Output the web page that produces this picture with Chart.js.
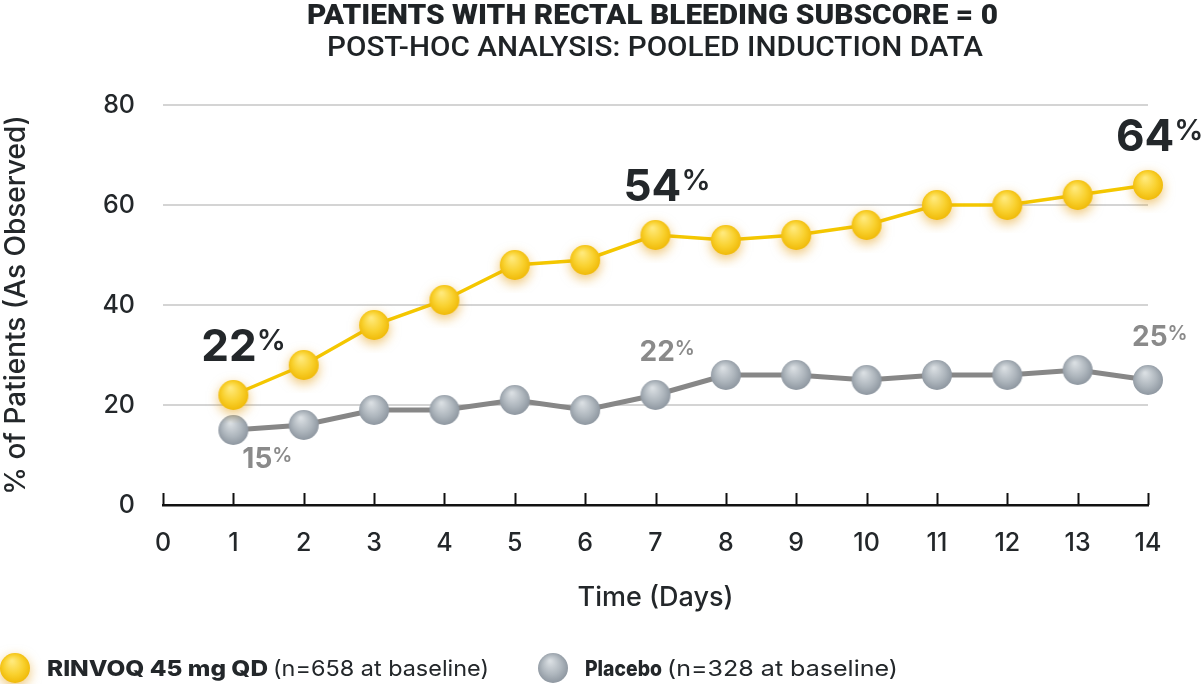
<!DOCTYPE html>
<html>
<head>
<meta charset="utf-8">
<script src="https://cdn.jsdelivr.net/npm/chart.js@4"></script>
<style>
  html, body { margin: 0; padding: 0; background: #fff; }
  #wrap { width: 1204px; height: 684px; }
</style>
</head>
<body>
<div id="wrap"><canvas id="chartCanvas" width="1204" height="684"></canvas></div>
<script>
// data
const days = [1, 2, 3, 4, 5, 6, 7, 8, 9, 10, 11, 12, 13, 14];
const rinvoq = [22, 28, 36, 41, 48, 49, 54, 53, 54, 56, 60, 60, 62, 64];
const placebo = [15, 16, 19, 19, 21, 19, 22, 26, 26, 25, 26, 26, 27, 25];
const yTicks = [0, 20, 40, 60, 80];
const calloutDays = [1, 7, 14];

const titleText = 'PATIENTS WITH RECTAL BLEEDING SUBSCORE = 0';
const subtitleText = 'POST-HOC ANALYSIS: POOLED INDUCTION DATA';
const legendItems = [
  { bold: 'RINVOQ 45 mg QD', rest: '(n=658 at baseline)' },
  { bold: 'Placebo', rest: '(n=328 at baseline)' }
];

const FONT = 'Inter, "Noto Sans", sans-serif';

function makeBall(light, base, dark, glow) {
  const c = document.createElement('canvas');
  c.width = c.height = 56;
  const g = c.getContext('2d');
  const cx = 28, cy = 28, r = 15;
  if (glow) {
    g.shadowColor = glow;
    g.shadowBlur = 12;
    g.shadowOffsetY = 4;
  }
  const grad = g.createRadialGradient(cx - 3, cy - 7, 1, cx, cy, r + 2);
  grad.addColorStop(0, light);
  grad.addColorStop(0.55, base);
  grad.addColorStop(1, dark);
  g.fillStyle = grad;
  g.beginPath();
  g.arc(cx, cy, r, 0, Math.PI * 2);
  g.fill();
  return c;
}

const yellowBall = makeBall('#ffe97a', '#f9d12e', '#eeb500', 'rgba(225,150,0,0.55)');
const grayBall = makeBall('#d9dee2', '#aeb6bd', '#87909a', null);

function fitText(ctx, text, x, y, width) {
  const w = ctx.measureText(text).width;
  ctx.save();
  ctx.translate(x, y);
  ctx.scale(width / w, 1);
  ctx.fillText(text, 0, 0);
  ctx.restore();
}

function drawPct(ctx, num, x, y, size, supSize, color) {
  ctx.fillStyle = color;
  ctx.textAlign = 'left';
  ctx.textBaseline = 'alphabetic';
  ctx.font = `700 ${size}px ${FONT}`;
  ctx.fillText(num, x, y);
  const w = ctx.measureText(num).width;
  ctx.font = `600 ${supSize}px ${FONT}`;
  ctx.fillText('%', x + w, y - size * 0.73 + supSize * 0.72);
}

const decor = {
  id: 'decor',
  beforeDatasetsDraw(chart) {
    const { ctx, chartArea, scales: { x } } = chart;
    ctx.save();
    ctx.strokeStyle = '#111';
    ctx.lineWidth = 2;
    x.ticks.forEach(t => {
      const px = Math.round(x.getPixelForValue(t.value)) + 0.5;
      ctx.beginPath();
      ctx.moveTo(px, chartArea.bottom - 12);
      ctx.lineTo(px, chartArea.bottom);
      ctx.stroke();
    });
    ctx.restore();
  },
  afterDatasetsDraw(chart) {
    const { ctx, scales: { x, y } } = chart;
    ctx.save();
    // title
    ctx.fillStyle = '#1f2326';
    ctx.textAlign = 'left';
    ctx.textBaseline = 'alphabetic';
    ctx.font = `900 27px Roboto, ${FONT}`;
    fitText(ctx, titleText, 307, 24, 691);
    ctx.font = `500 27px Roboto, ${FONT}`;
    fitText(ctx, subtitleText, 327, 56, 656);

    // callouts
    calloutDays.forEach(d => {
      const i = days.indexOf(d);
      const px = x.getPixelForValue(d);
      const py = y.getPixelForValue(rinvoq[i]);
      drawPct(ctx, String(rinvoq[i]), px - 32, py - 34, 44, 29, '#23272a');
      const gy = y.getPixelForValue(placebo[i]);
      if (d === 1) {
        drawPct(ctx, String(placebo[i]), px + 9, gy + 38, 28, 20, '#8a8a8a');
      } else {
        drawPct(ctx, String(placebo[i]), px - 16, gy - 34, 28, 20, '#8a8a8a');
      }
    });

    // legend
    const balls = [yellowBall, grayBall];
    const lx = [15, 553];
    const boldW = [221, 77];
    const restW = [216, 231];
    legendItems.forEach((it, k) => {
      ctx.drawImage(balls[k], lx[k] - 28, 668 - 28);
      ctx.fillStyle = '#23272a';
      ctx.font = `800 22px ${FONT}`;
      fitText(ctx, it.bold, lx[k] + 32, 676, boldW[k]);
      ctx.font = `400 22px ${FONT}`;
      fitText(ctx, it.rest, lx[k] + 32 + boldW[k] + 5, 676, restW[k]);
    });
    ctx.restore();
  }
};

function initChart() {
  const ctx = document.getElementById('chartCanvas').getContext('2d');
  new Chart(ctx, {
    type: 'line',
    data: {
      datasets: [{
        label: 'RINVOQ 45 mg QD',
        data: days.map((d, i) => ({ x: d, y: rinvoq[i] })),
        borderColor: '#f4c700',
        borderWidth: 3.5,
        pointStyle: yellowBall,
        clip: false
      }, {
        label: 'Placebo',
        data: days.map((d, i) => ({ x: d, y: placebo[i] })),
        borderColor: '#878787',
        borderWidth: 5,
        pointStyle: grayBall,
        clip: false
      }]
    },
    options: {
      responsive: false,
      animation: false,
      devicePixelRatio: 1,
      layout: { padding: { left: 0, top: 105, right: 56, bottom: 59 } },
      plugins: {
        legend: { display: false },
        tooltip: { enabled: false }
      },
      scales: {
        x: {
          type: 'linear',
          min: 0,
          max: 14,
          afterFit: s => { s.height = 120; },
          grid: { display: false, drawTicks: false },
          border: { display: true, color: '#111', width: 2.5 },
          ticks: {
            stepSize: 1,
            padding: 23,
            color: '#23272a',
            font: { family: FONT, size: 25, weight: 500 }
          },
          title: {
            display: true,
            text: 'Time (Days)',
            color: '#23272a',
            font: { family: FONT, size: 27, weight: 500 },
            padding: { top: 0, bottom: 11 }
          }
        },
        y: {
          min: 0,
          max: 80,
          afterFit: s => { s.width = 163; },
          afterBuildTicks: s => { s.ticks = yTicks.map(v => ({ value: v })); },
          grid: {
            drawTicks: false,
            lineWidth: 2,
            color: c => (c.tick && c.tick.value === 0 ? 'rgba(0,0,0,0)' : '#d4d4d4')
          },
          border: { display: false },
          ticks: {
            padding: 28,
            color: '#23272a',
            font: { family: FONT, size: 25, weight: 500 }
          },
          title: {
            display: true,
            text: '% of Patients (As Observed)',
            color: '#23272a',
            font: { family: FONT, size: 28, weight: 500 },
            padding: { top: 0, bottom: 0 }
          }
        }
      }
    },
    plugins: [decor]
  });
}

document.addEventListener('DOMContentLoaded', initChart);
</script>
</body>
</html>
